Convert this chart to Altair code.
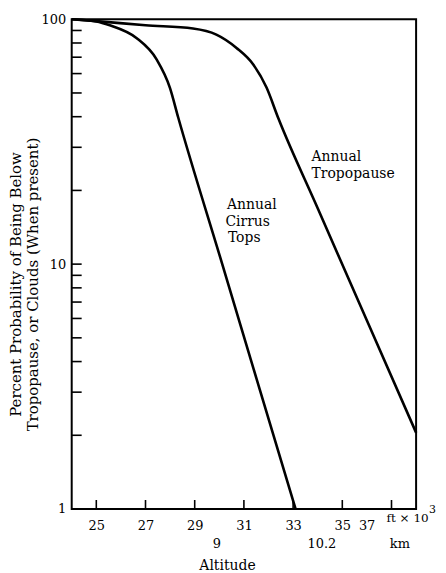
import altair as alt
import pandas as pd

# ---- data ----
trop_x = [24.0, 25.0, 27.0, 28.93, 29.88, 30.7, 31.38, 31.92, 32.4, 34.0, 36.0, 38.0]
trop_y = [100.0, 98.3, 94.5, 91.7, 86.6, 76.4, 65.4, 52.6, 39.4, 16.9, 5.88, 2.05]

cirr_x = [24.0, 25.0, 25.55, 26.63, 27.45, 27.99, 28.33, 30.12, 31.6, 33.1]
cirr_y = [100.0, 98.0, 94.5, 83.9, 68.6, 52.6, 39.7, 10.0, 3.18, 1.0]

x_tick_values = [25, 27, 29, 31, 33, 35, 37]
y_label_values = [1, 10, 100]
y_tick_values = [2, 3, 4, 5, 6, 7, 8, 9, 10, 20, 30, 40, 50, 60, 70, 80, 90]

km_labels = ["9", "10.2", "km"]
km_label_x = [29.9, 34.17, 37.34]

note_text = ["Annual", "Tropopause", "Annual", "Cirrus", "Tops"]
note_x = [33.75, 33.75, 30.31, 30.25, 30.35]
note_y = [27.3, 23.4, 17.4, 14.9, 12.8]

unit_text = ["ft \u00d7 10"]
unit_x = [36.8]
unit_exp_text = ["3"]
unit_exp_x = [38.52]

W, H = 346, 492
FONT = "DejaVu Serif"

lines_df = pd.DataFrame(
    {"x": trop_x + cirr_x,
     "y": trop_y + cirr_y,
     "series": ["Annual Tropopause"] * len(trop_x) + ["Annual Cirrus Tops"] * len(cirr_x)}
)

xscale = alt.Scale(domain=[24, 38], nice=False, zero=False)
yscale = alt.Scale(type="log", domain=[1, 100], nice=False)

lines = alt.Chart(lines_df).mark_line(
    color="black", strokeWidth=2.6, strokeJoin="round", interpolate="monotone"
).encode(
    x=alt.X("x:Q", scale=xscale,
            axis=alt.Axis(values=x_tick_values, ticks=False, grid=False, domain=False,
                          labelFont=FONT, labelFontSize=13, labelColor="black",
                          labelPadding=11,
                          labelOffset={"condition": {"test": "datum.value == 37", "value": -25}, "value": 0},
                          title="Altitude", titleFont=FONT, titleFontSize=14,
                          titleFontWeight="normal", titleColor="black",
                          titleX=156, titleY=50, titleAnchor="middle", titleBaseline="top")),
    y=alt.Y("y:Q", scale=yscale,
            axis=alt.Axis(values=y_label_values, format="d", ticks=False, grid=False, domain=False,
                          labelFont=FONT, labelFontSize=13, labelColor="black", labelPadding=6,
                          title=["Percent Probability of Being Below",
                                 "Tropopause, or Clouds (When present)"],
                          titleFont=FONT, titleFontSize=15, titleFontWeight="normal",
                          titleColor="black", titleX=-48, titleY=266, titleAngle=270,
                          titleAlign="center", titleBaseline="bottom", titleLineHeight=17)),
    detail="series:N",
)

yt = alt.Chart(pd.DataFrame({"y": y_tick_values})).mark_rule(color="black", strokeWidth=1.6).encode(
    y=alt.Y("y:Q", scale=yscale),
    x=alt.value(0), x2=alt.value(10),
)

xt = alt.Chart(pd.DataFrame({"x": x_tick_values})).mark_rule(color="black", strokeWidth=1.6).encode(
    x=alt.X("x:Q", scale=xscale),
    y=alt.value(H), y2=alt.value(H - 9),
)

notes = alt.Chart(pd.DataFrame({"x": note_x, "y": note_y, "t": note_text})).mark_text(
    font=FONT, fontSize=14, color="black", align="left", baseline="middle"
).encode(
    x=alt.X("x:Q", scale=xscale), y=alt.Y("y:Q", scale=yscale), text="t:N"
)

km = alt.Chart(pd.DataFrame({"x": km_label_x, "t": km_labels})).mark_text(
    font=FONT, fontSize=13, color="black", align="center", baseline="middle"
).encode(
    x=alt.X("x:Q", scale=xscale), y=alt.value(H + 35), text="t:N"
)

unit = alt.Chart(pd.DataFrame({"x": unit_x, "t": unit_text})).mark_text(
    font=FONT, fontSize=12, color="black", align="left", baseline="middle"
).encode(
    x=alt.X("x:Q", scale=xscale), y=alt.value(H + 9), text="t:N"
)

unit_exp = alt.Chart(pd.DataFrame({"x": unit_exp_x, "t": unit_exp_text})).mark_text(
    font=FONT, fontSize=11, color="black", align="left", baseline="middle"
).encode(
    x=alt.X("x:Q", scale=xscale), y=alt.value(H + 1), text="t:N"
)

chart = alt.layer(lines, yt, xt, notes, km, unit, unit_exp).properties(
    width=W, height=H,
    autosize=alt.AutoSizeParams(type="none"),
    padding={"left": 64, "top": 10, "right": 22, "bottom": 63},
    background="white",
).configure_view(stroke="black", strokeWidth=2)

chart.save("out.html", embed_options={"renderer": "svg", "actions": False})
